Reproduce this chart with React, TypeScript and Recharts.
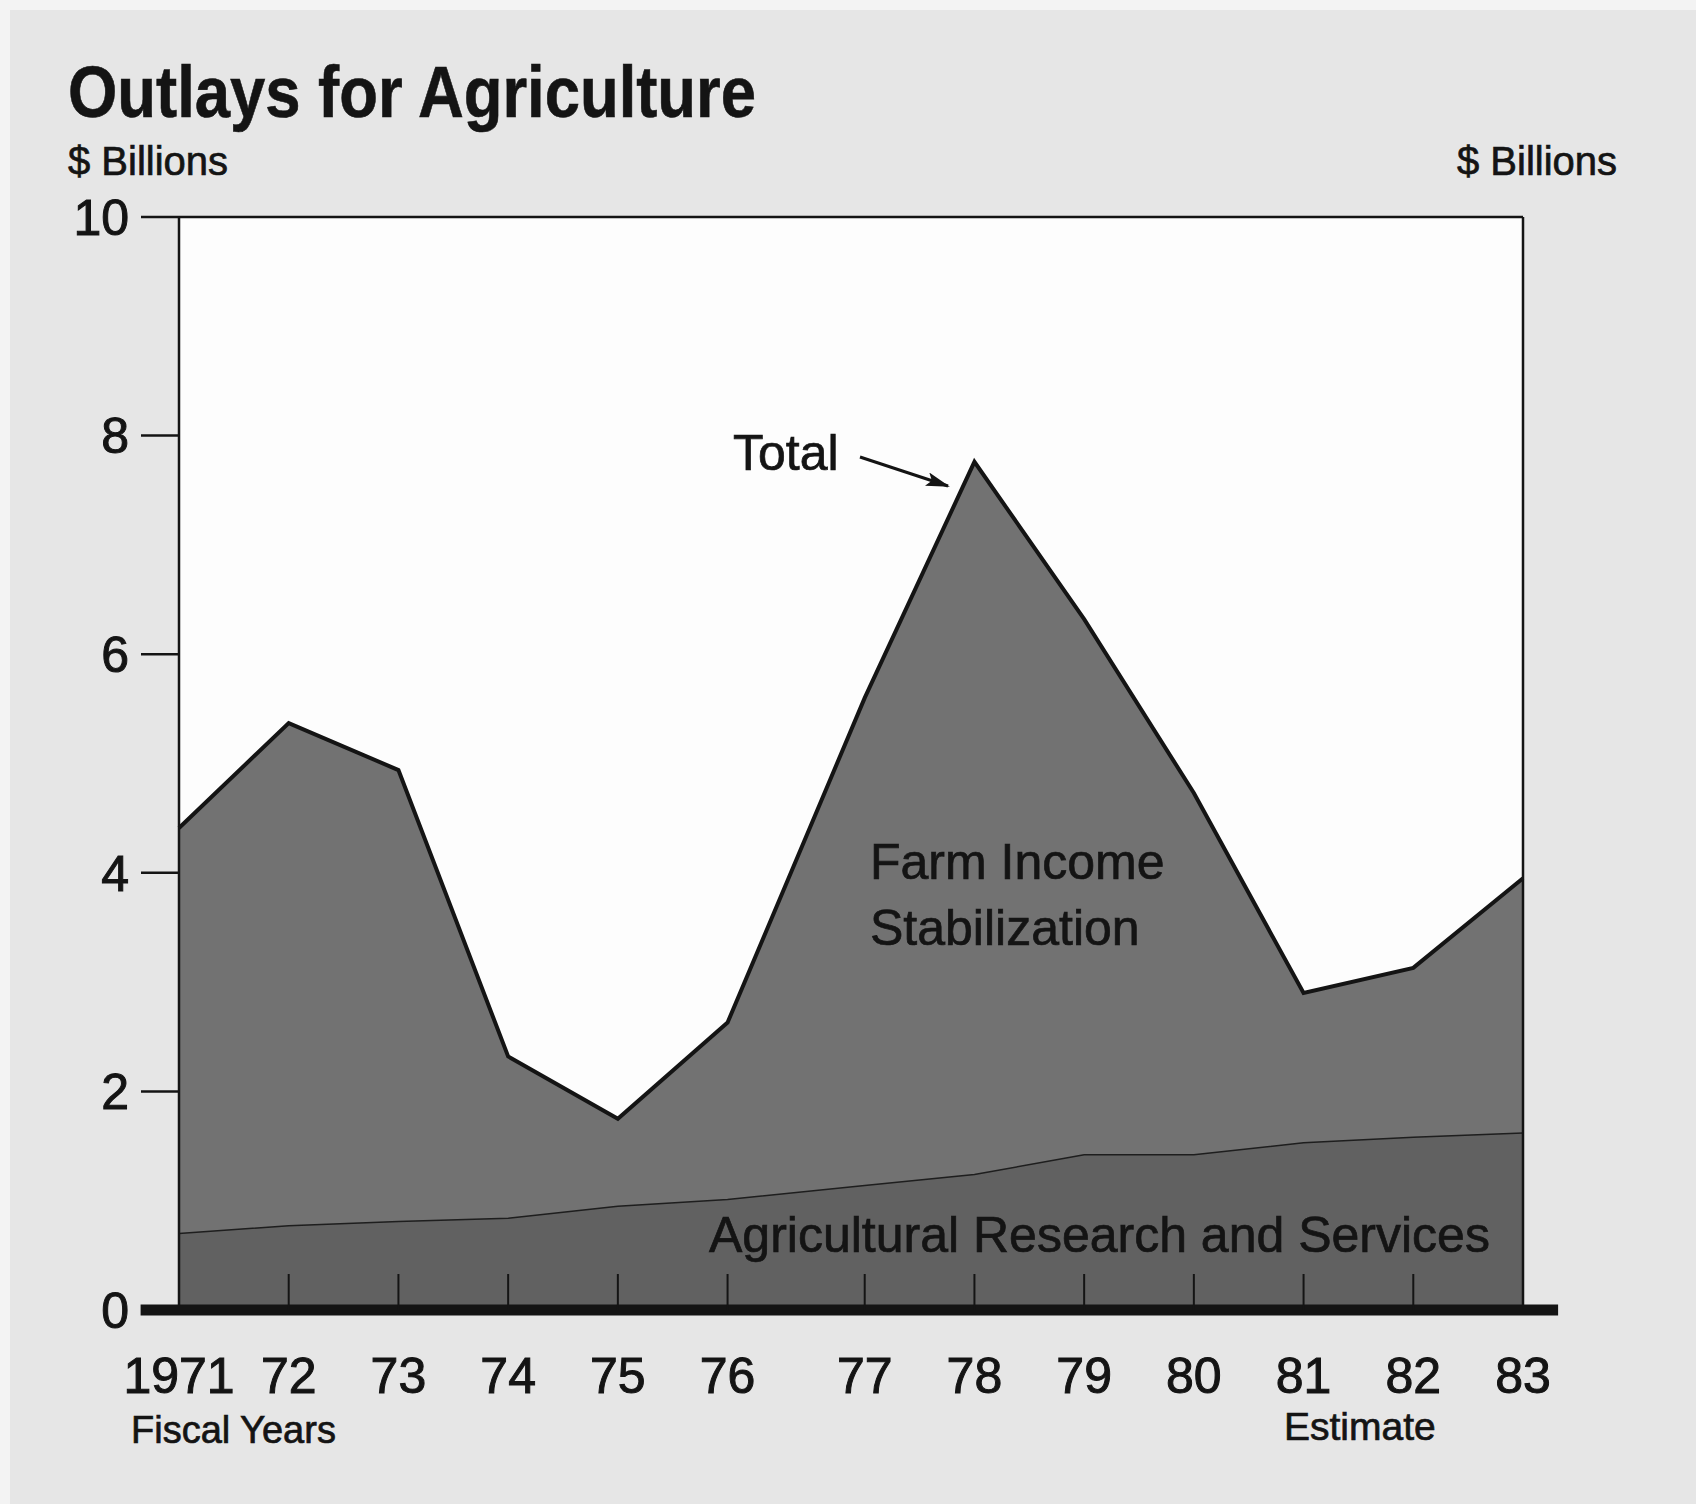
import React from 'react';
import { AreaChart, Area, XAxis, YAxis, CartesianGrid, ReferenceLine } from 'recharts';

// fiscal years; FY1977 onward sits a quarter further right because of the 1976 transition quarter
const yearLabels = ['1971', '72', '73', '74', '75', '76', '77', '78', '79', '80', '81', '82', '83'];
const fiscalTime = [1971, 1972, 1973, 1974, 1975, 1976, 1977.25, 1978.25, 1979.25, 1980.25, 1981.25, 1982.25, 1983.25];

// $ billions
const totalOutlays = [4.41, 5.37, 4.94, 2.32, 1.75, 2.63, 5.6, 7.76, 6.32, 4.73, 2.9, 3.13, 3.95];
const researchServices = [0.7, 0.77, 0.81, 0.84, 0.95, 1.01, 1.14, 1.24, 1.42, 1.42, 1.53, 1.58, 1.62];

const yTicks = [0, 2, 4, 6, 8, 10];

const FONT = '"Liberation Sans", Arial, sans-serif';
const INK = '#141414';

const data = fiscalTime.map((t, i) => ({
  t,
  year: yearLabels[i],
  total: totalOutlays[i],
  research: researchServices[i],
}));

const YearTick = (props: any) => {
  const { x, y, payload } = props;
  const idx = fiscalTime.indexOf(payload.value);
  const edge = idx === 0 || idx === fiscalTime.length - 1;
  return (
    <g>
      {!edge && <line x1={x} x2={x} y1={y} y2={y - 36} stroke={INK} strokeWidth={2} />}
      <text
        x={x}
        y={y + 83}
        textAnchor="middle"
        fontSize={50}
        fill={INK}
        stroke={INK}
        strokeWidth={1}
        fontFamily={FONT}
      >
        {yearLabels[idx]}
      </text>
    </g>
  );
};

const App: React.FC = () => {
  return (
    <div style={{ position: 'absolute', left: 0, top: 0, width: 1696, height: 1504, background: '#f3f3f3' }}>
      <div style={{ position: 'absolute', left: 10, top: 10, right: 0, bottom: 0, background: '#e6e6e6' }} />

      <div style={{ position: 'absolute', left: 0, top: 0 }}>
        <AreaChart
          width={1696}
          height={1504}
          data={data}
          margin={{ top: 217, right: 113, bottom: 134, left: 119 }}
        >
          <CartesianGrid horizontal={false} vertical={false} fill="#fdfdfd" />
          <Area
            type="linear"
            dataKey="total"
            yAxisId="l"
            stroke={INK}
            strokeWidth={4}
            fill="#727272"
            fillOpacity={1}
            isAnimationActive={false}
          />
          <Area
            type="linear"
            dataKey="research"
            yAxisId="l"
            stroke="#1e1e1e"
            strokeWidth={1.5}
            fill="#616161"
            fillOpacity={1}
            isAnimationActive={false}
          />
          <ReferenceLine yAxisId="l" y={10} stroke={INK} strokeWidth={2.5} />
          <ReferenceLine
            yAxisId="l"
            segment={[{ x: 1970.65, y: 0 }, { x: 1983.57, y: 0 }]}
            ifOverflow="visible"
            stroke={INK}
            strokeWidth={11}
          />
          <XAxis
            dataKey="t"
            type="number"
            domain={[1971, 1983.25]}
            ticks={fiscalTime}
            interval={0}
            height={60}
            axisLine={false}
            tickLine={false}
            tickSize={0}
            tickMargin={0}
            tick={<YearTick />}
          />
          <YAxis
            yAxisId="l"
            domain={[0, 10]}
            ticks={yTicks}
            width={60}
            axisLine={{ stroke: INK, strokeWidth: 2.5 }}
            tickLine={{ stroke: INK, strokeWidth: 2.5 }}
            tickSize={38}
            tickMargin={12}
            tick={{ fontSize: 50, fill: INK, stroke: INK, strokeWidth: 1, fontFamily: FONT }}
          />
          <YAxis
            yAxisId="r"
            orientation="right"
            domain={[0, 10]}
            ticks={yTicks}
            width={60}
            axisLine={{ stroke: INK, strokeWidth: 2.5 }}
            tickLine={{ stroke: INK, strokeWidth: 2.5 }}
            tickSize={34}
            tickMargin={13}
            tick={{ fontSize: 50, fill: INK, stroke: INK, strokeWidth: 1, fontFamily: FONT }}
          />
        </AreaChart>
      </div>

      <svg
        width={1696}
        height={1504}
        style={{ position: 'absolute', left: 0, top: 0, pointerEvents: 'none' }}
        fontFamily={FONT}
        fill={INK}
      >
        <defs>
          <marker id="arrowHead" markerWidth="24" markerHeight="14" refX="22" refY="7" orient="auto" markerUnits="userSpaceOnUse">
            <path d="M0,0 L24,7 L0,14 L5,7 Z" fill={INK} />
          </marker>
        </defs>
        <text x={68} y={117} fontSize={72} fontWeight="bold" stroke={INK} strokeWidth={0.6} textLength={688} lengthAdjust="spacingAndGlyphs">
          Outlays for Agriculture
        </text>
        <g stroke={INK} strokeWidth={0.7}>
          <text x={68} y={175} fontSize={40}>$ Billions</text>
          <text x={1457} y={175} fontSize={40}>$ Billions</text>

          <text x={733} y={470} fontSize={50}>Total</text>

          <text x={870} y={879} fontSize={50}>Farm Income</text>
          <text x={870} y={945} fontSize={50}>Stabilization</text>
          <text x={709} y={1252} fontSize={50}>Agricultural Research and Services</text>

          <text x={131} y={1443} fontSize={38}>Fiscal Years</text>
          <text x={1284} y={1440} fontSize={39}>Estimate</text>
        </g>
        <line x1={860} y1={457} x2={948} y2={486} stroke={INK} strokeWidth={3} markerEnd="url(#arrowHead)" />
      </svg>
    </div>
  );
};

export default App;
